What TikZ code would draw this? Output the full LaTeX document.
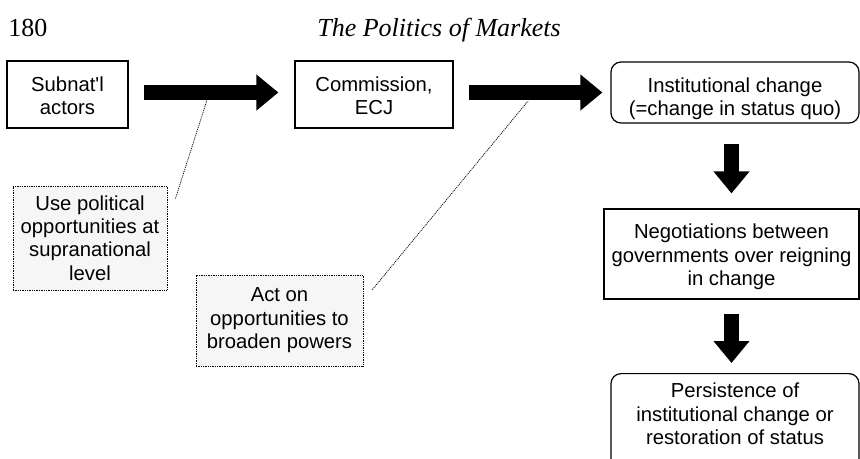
\documentclass[tikz,border=0pt]{standalone}
\usepackage{fontspec}
\setmainfont{Liberation Serif}
\setsansfont{Liberation Sans}
\usetikzlibrary{arrows.meta}
\begin{document}
\begin{tikzpicture}[x=0.75pt,y=-0.75pt,
  box/.style={draw, line width=0.9pt, inner sep=0pt, align=center,
    font=\sffamily\fontsize{15.2}{17.6}\selectfont},
  roundbox/.style={box, rounded corners=7.5pt},
  note/.style={box, line width=0.7pt, dash pattern=on 0.7pt off 0.6pt, fill=gray!7},
  flow/.style={line width=11.5pt, -{Triangle[length=16.5pt,width=26pt]}},
  link/.style={line width=0.55pt, dash pattern=on 0.8pt off 0.7pt}]
\path[use as bounding box, clip] (0,0) rectangle (860,458);
\fill[white] (0,0) rectangle (860,458);

% running head
\node[anchor=base west, inner sep=0pt, font=\fontsize{19.5}{22}\selectfont] (page) at (8,36) {180};
\node[anchor=base, inner sep=0pt, font=\itshape\fontsize{19.5}{22}\selectfont] (title) at (439,36) {The Politics of Markets};

% main chain
\node[box, minimum width=90.75pt, minimum height=50.25pt] (sub) at (67.5,94.5) {\rule{0pt}{13pt}Subnat\textquotesingle l\\actors};
\node[box, minimum width=118.5pt, minimum height=50.25pt] (com) at (374,94.5) {\rule{0pt}{13pt}Commission,\\ECJ};
\node[roundbox, minimum width=186pt, minimum height=45.75pt] (inst) at (735,92.5) {\rule{0pt}{20pt}Institutional change\\(=change in status quo)};
\node[box, minimum width=191.25pt, minimum height=67.5pt] (neg) at (731.5,254) {\rule{0pt}{15.6pt}Negotiations between\\governments over reigning\\in change};
\node[roundbox, anchor=north, minimum width=186pt, inner ysep=7pt] (persist) at (735,373) {Persistence of\\institutional change or\\restoration of status\\\mbox{}};

% annotations
\node[note, minimum width=115.5pt, minimum height=78pt] (use) at (90,238) {Use political\\opportunities at\\supranational\\level};
\node[note, minimum width=125.25pt, minimum height=68.25pt] (act) at (279.5,320.5) {Act on\\opportunities to\\broaden powers};

% thick flow arrows
\draw[flow] ([xshift=11.25pt,yshift=1.5pt]sub.east) -- ([xshift=-12pt,yshift=1.5pt]com.west);
\coordinate (a2end) at (inst.west |- com.east);
\draw[flow] ([xshift=11.25pt,yshift=1.5pt]com.east) -- ([xshift=-6pt,yshift=1.5pt]a2end);
\coordinate (d1start) at (inst.south -| neg.north);
\draw[flow] ([yshift=-15pt]d1start) -- ([yshift=11.25pt]neg.north);
\coordinate (d2end) at (neg.south |- persist.north);
\draw[flow] ([yshift=-10.5pt]neg.south) -- ([yshift=7.5pt]d2end);

% dotted leader lines from notes to arrows
\coordinate (l1end) at (207,100);
\coordinate (l2end) at (528,101);
\draw[link] ([xshift=6pt,yshift=-9.75pt]use.north east) -- (l1end);
\draw[link] ([xshift=6.75pt,yshift=-11.25pt]act.north east) -- (l2end);
\end{tikzpicture}
\end{document}
